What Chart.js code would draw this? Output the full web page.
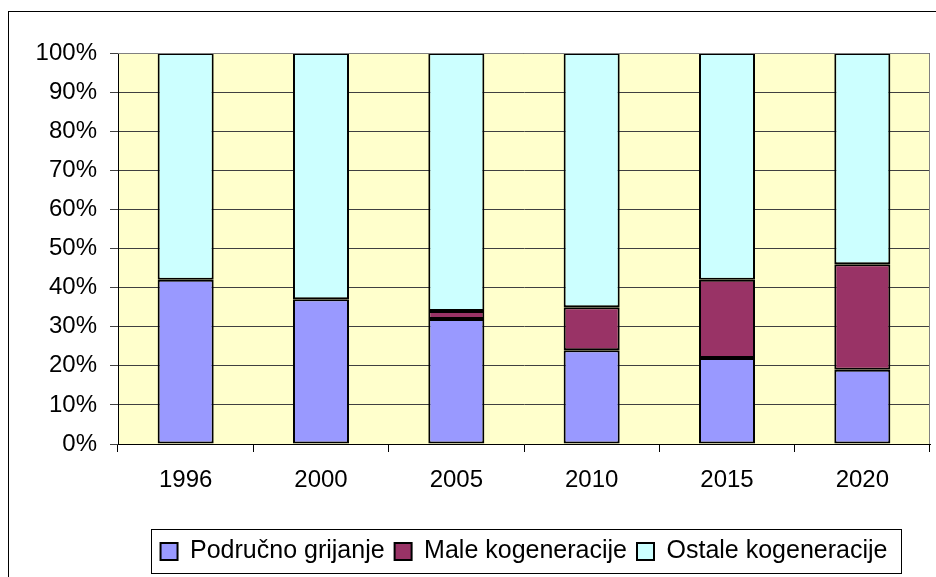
<!DOCTYPE html>
<html>
<head>
<meta charset="utf-8">
<title>Grijanje i kogeneracije</title>
<script src="https://cdn.jsdelivr.net/npm/chart.js@4/dist/chart.umd.min.js"></script>
<style>
  html, body { margin: 0; padding: 0; background: #fff; }
  #wrap { width: 936px; height: 577px; }
</style>
</head>
<body>
<div id="wrap"><canvas id="chart" width="936" height="577"></canvas></div>
<script>
const years = ['1996', '2000', '2005', '2010', '2015', '2020'];
const podrucno = [42, 37, 32, 24, 22, 19];
const male = [0, 0, 2, 11, 20, 27];
const ostale = [58, 63, 66, 65, 58, 54];
const yTicks = [0, 10, 20, 30, 40, 50, 60, 70, 80, 90, 100];

const FONT = "'Liberation Sans', Arial, sans-serif";

// plot background, outer frame and legend frame
const framePlugin = {
  id: 'frame',
  afterLayout(chart) {
    // center the legend under the plot area, like the original
    const { legend, chartArea: a } = chart;
    if (!legend) return;
    const shift = (a.left + a.right) / 2 - (legend.left + legend.right) / 2;
    legend.left += shift;
    legend.right += shift;
    legend.adjustHitBoxes();
  },
  beforeDraw(chart) {
    const { ctx, chartArea: a } = chart;
    ctx.save();
    ctx.fillStyle = '#ffffff';
    ctx.fillRect(0, 0, chart.width, chart.height);
    ctx.strokeStyle = '#000';
    ctx.lineWidth = 1;
    ctx.strokeRect(8.5, 11.5, chart.width + 20, chart.height + 20);
    ctx.fillStyle = '#ffffcc';
    ctx.fillRect(a.left, a.top, a.right - a.left, a.bottom - a.top);
    ctx.restore();
  },
  afterDraw(chart) {
    const { ctx, chartArea: a, legend } = chart;
    ctx.save();
    ctx.strokeStyle = '#808080';
    ctx.lineWidth = 1;
    ctx.beginPath();
    ctx.moveTo(a.left, a.top + 0.5);
    ctx.lineTo(a.right - 0.5, a.top + 0.5);
    ctx.lineTo(a.right - 0.5, a.bottom);
    ctx.stroke();
    if (legend && legend.legendHitBoxes.length) {
      const boxes = legend.legendHitBoxes;
      const first = boxes[0];
      const last = boxes[boxes.length - 1];
      const x0 = Math.round(first.left - 10) + 0.5;
      const x1 = Math.round(last.left + last.width + 14) + 0.5;
      ctx.strokeStyle = '#000';
      ctx.strokeRect(x0, Math.round(legend.top) + 0.5, x1 - x0, Math.round(legend.height) - 1);
    }
    ctx.restore();
  }
};

const barStyle = { borderColor: '#000', borderWidth: 2, borderSkipped: false,
  barPercentage: 0.414, categoryPercentage: 1 };

new Chart(document.getElementById('chart'), {
  type: 'bar',
  data: {
    labels: years,
    datasets: [
      { label: 'Područno grijanje', data: podrucno, backgroundColor: '#9999ff', ...barStyle },
      { label: 'Male kogeneracije', data: male, backgroundColor: '#993366', ...barStyle },
      { label: 'Ostale kogeneracije', data: ostale, backgroundColor: '#ccffff', ...barStyle }
    ]
  },
  options: {
    responsive: false,
    animation: false,
    layout: { padding: { top: 53, right: 6, bottom: 3, left: 0 } },
    plugins: {
      tooltip: { enabled: false },
      legend: {
        position: 'bottom',
        labels: {
          font: { family: FONT, size: 25 },
          color: '#000',
          boxWidth: 17,
          boxHeight: 17,
          padding: 10
        }
      }
    },
    scales: {
      x: {
        stacked: true,
        offset: true,
        grid: { offset: true, drawOnChartArea: false, color: '#000', tickLength: 8 },
        border: { color: '#000', width: 1 },
        ticks: { font: { family: FONT, size: 24 }, color: '#000', padding: 14, maxRotation: 0 },
        afterFit(scale) { scale.height = 85; }
      },
      y: {
        stacked: true,
        min: 0,
        max: 100,
        grid: { color: '#404040', tickLength: 8 },
        border: { color: '#000', width: 1 },
        afterBuildTicks(scale) { scale.ticks = yTicks.map(v => ({ value: v })); },
        ticks: {
          font: { family: FONT, size: 24 },
          color: '#000',
          padding: 13,
          callback: v => v + '%'
        },
        afterFit(scale) { scale.width = 118; }
      }
    }
  },
  plugins: [framePlugin]
});
</script>
</body>
</html>
